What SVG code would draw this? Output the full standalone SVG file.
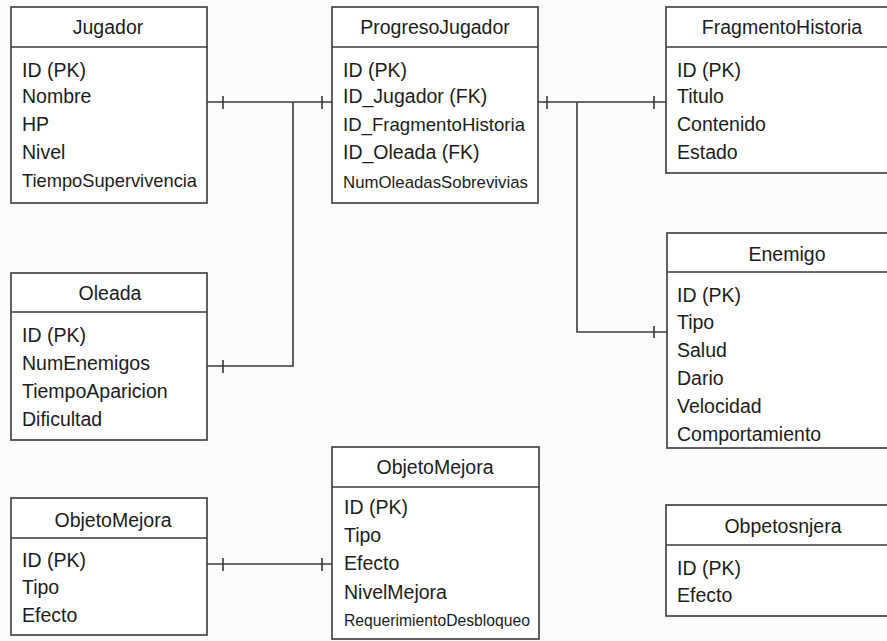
<svg xmlns="http://www.w3.org/2000/svg" width="887" height="641" viewBox="0 0 887 641">
<style>
.box{fill:#ffffff;stroke:#3a3a3a;stroke-width:1.6}
.hd{stroke:#3a3a3a;stroke-width:1.6}
.ln{fill:none;stroke:#3a3a3a;stroke-width:1.6}
text{font-family:"Liberation Sans",Arial,sans-serif;fill:#1c1c1c;font-size:19.5px}
.t{text-anchor:middle}
</style>
<rect width="887" height="641" fill="#fbfbfb"/>
<g id="connectors">
<path class="ln" d="M207 102H332M293 102V366H207M538 102H666M577 102V332H667M207 564H332"/>
<path class="ln" d="M223 96V109M322 96V109M223 360V373M547 96V109M654 96V109M654 326V338M223 558V571M322 558V571"/>
</g>
<g id="jugador">
<rect class="box" x="11" y="7" width="196" height="196"/>
<line class="hd" x1="11" y1="47" x2="207" y2="47"/>
<text class="t" x="108" y="34">Jugador</text>
<text x="22" y="77">ID (PK)</text>
<text x="22" y="102.5">Nombre</text>
<text x="22" y="131">HP</text>
<text x="22" y="159">Nivel</text>
<text x="22" y="187" textLength="175" lengthAdjust="spacingAndGlyphs" style="font-size:18.2px">TiempoSupervivencia</text>
</g>
<g id="progresojugador">
<rect class="box" x="332" y="7" width="206" height="196"/>
<line class="hd" x1="332" y1="47" x2="538" y2="47"/>
<text class="t" x="435" y="34">ProgresoJugador</text>
<text x="343" y="77">ID (PK)</text>
<text x="343" y="102.5">ID_Jugador (FK)</text>
<text x="343" y="131" textLength="182" lengthAdjust="spacingAndGlyphs" style="font-size:18.6px">ID_FragmentoHistoria</text>
<text x="343" y="159">ID_Oleada (FK)</text>
<text x="343" y="188" textLength="185" lengthAdjust="spacingAndGlyphs" style="font-size:16.8px">NumOleadasSobrevivias</text>
</g>
<g id="fragmentohistoria">
<rect class="box" x="666" y="7" width="232" height="166"/>
<line class="hd" x1="666" y1="47" x2="898" y2="47"/>
<text class="t" x="782" y="34">FragmentoHistoria</text>
<text x="677" y="77">ID (PK)</text>
<text x="677" y="102.5">Titulo</text>
<text x="677" y="131">Contenido</text>
<text x="677" y="159">Estado</text>
</g>
<g id="oleada">
<rect class="box" x="11" y="273" width="196" height="167"/>
<line class="hd" x1="11" y1="312" x2="207" y2="312"/>
<text class="t" x="110" y="300">Oleada</text>
<text x="22" y="342">ID (PK)</text>
<text x="22" y="369.5">NumEnemigos</text>
<text x="22" y="397.5">TiempoAparicion</text>
<text x="22" y="425.5">Dificultad</text>
</g>
<g id="enemigo">
<rect class="box" x="667" y="233" width="240" height="215"/>
<line class="hd" x1="667" y1="272" x2="907" y2="272"/>
<text class="t" x="787" y="261">Enemigo</text>
<text x="677" y="302">ID (PK)</text>
<text x="677" y="328.5">Tipo</text>
<text x="677" y="357">Salud</text>
<text x="677" y="385">Dario</text>
<text x="677" y="413">Velocidad</text>
<text x="677" y="441">Comportamiento</text>
</g>
<g id="objetomejora1">
<rect class="box" x="11" y="498" width="196" height="137"/>
<line class="hd" x1="11" y1="538" x2="207" y2="538"/>
<text class="t" x="113" y="527">ObjetoMejora</text>
<text x="22" y="567">ID (PK)</text>
<text x="22" y="593.5">Tipo</text>
<text x="22" y="621.5">Efecto</text>
</g>
<g id="objetomejora2">
<rect class="box" x="332" y="447" width="207" height="192"/>
<line class="hd" x1="332" y1="487" x2="539" y2="487"/>
<text class="t" x="435" y="473.5">ObjetoMejora</text>
<text x="344" y="514">ID (PK)</text>
<text x="344" y="541.5">Tipo</text>
<text x="344" y="570">Efecto</text>
<text x="344" y="599">NivelMejora</text>
<text x="344" y="626" textLength="186" lengthAdjust="spacingAndGlyphs" style="font-size:15.7px">RequerimientoDesbloqueo</text>
</g>
<g id="obpetosnjera">
<rect class="box" x="666" y="505" width="234" height="111"/>
<line class="hd" x1="666" y1="545" x2="900" y2="545"/>
<text class="t" x="783" y="533">Obpetosnjera</text>
<text x="677" y="575">ID (PK)</text>
<text x="677" y="602">Efecto</text>
</g>
</svg>
